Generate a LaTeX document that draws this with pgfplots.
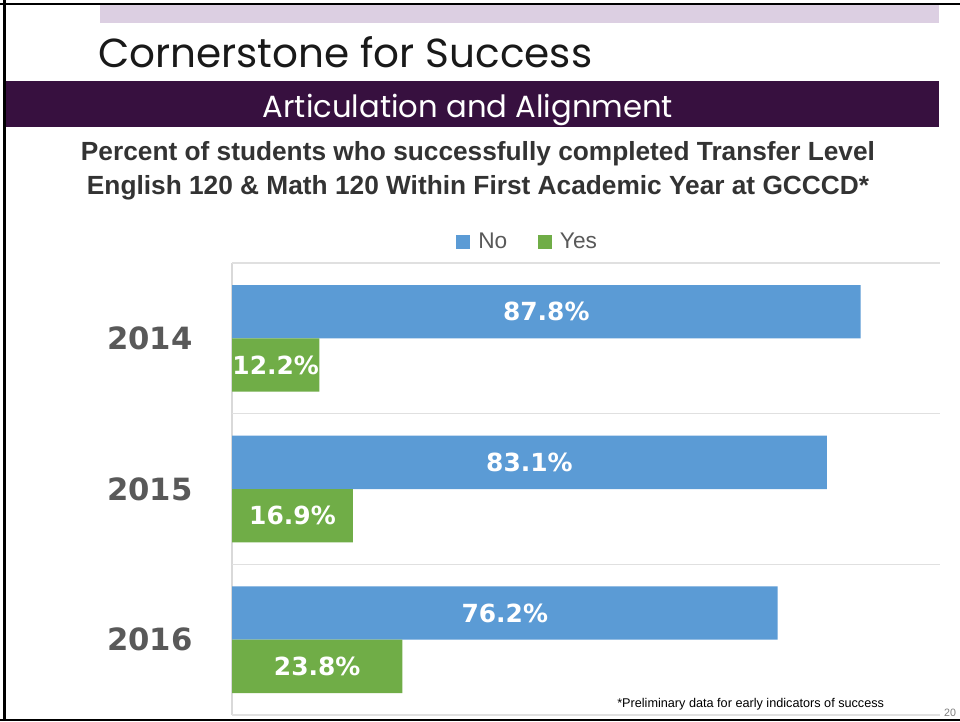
\documentclass[border=0pt]{standalone}
\usepackage{fontspec}
\setmainfont{Liberation Sans}
\newfontfamily\geo{Poppins}
\newfontfamily\dv{DejaVu Sans}
\usepackage{pgfplots}
\pgfplotsset{compat=1.18}
\definecolor{nocol}{HTML}{5B9BD5}
\definecolor{yescol}{HTML}{70AD47}
\definecolor{lband}{HTML}{DCCFE2}
\definecolor{dband}{HTML}{37103F}
\definecolor{lbl}{HTML}{595959}
\begin{document}
\begin{tikzpicture}
\begin{scope}[x=0.75pt,y=-0.75pt]
\path[use as bounding box] (0,0) rectangle (960,721);
\fill[white] (0,0) rectangle (960,721);
\fill[black] (0,2.5) rectangle (960,5);
\fill[black] (3,0) rectangle (5.5,721);
\fill[black] (0,718.5) rectangle (960,721);
\fill[lband] (100,5) rectangle (939,23);
\fill[dband] (5.5,81) rectangle (939,127);
\node[anchor=base west, inner sep=0, font=\geo\fontsize{30.4}{34}\selectfont, text=black!90] at (98,67) {Cornerstone for Success};
\node[anchor=base, inner sep=0, text=white, font=\geo\fontsize{23}{26}\selectfont] at (468,117) {Articulation and Alignment};
\node[align=center, font=\fontsize{19.7}{25.5}\selectfont\bfseries, text=black!80, inner sep=0] at (478,171) {Percent of students who successfully completed Transfer Level\\English 120 \& Math 120 Within First Academic Year at GCCCD*};
\node[anchor=base west, inner sep=0, font=\fontsize{9.5}{11}\selectfont] at (617,707) {*Preliminary data for early indicators of success};
\node[anchor=base, inner sep=0, font=\fontsize{8}{9}\selectfont, text=gray] at (950,716) {20};
\end{scope}
\begin{axis}[
  at={(174pt,-536.25pt)}, anchor=south west,
  scale only axis, width=531pt, height=339pt,
  xmin=0, xmax=98.9, ymin=-0.5, ymax=2.5, y dir=reverse,
  axis x line=none, axis y line*=left,
  y axis line style={draw=black!15, line width=0.8pt, -},
  ytick={0,1,2}, yticklabels={2014,2015,2016},
  ytick style={draw=none},
  yticklabel style={font=\dv\bfseries\fontsize{23}{23}\selectfont, text=lbl, xshift=-26pt},
  extra y ticks={-0.5,0.5,1.5,2.5}, extra y tick labels={},
  extra y tick style={grid=major, major grid style={draw=black!12, line width=0.8pt}},
  bar width=40pt,
  /pgf/number format/assume math mode=true,
  nodes near coords={\pgfmathprintnumber[fixed,precision=1,fixed zerofill]{\pgfplotspointmeta}\%},
  point meta=x,
  visualization depends on={x \as \rawx},
  nodes near coords style={font=\dv\bfseries\fontsize{18.7}{20}\selectfont, text=white, anchor=center, shift={(axis direction cs:-\rawx/2,0)}},
  legend style={at={(0.418,1)}, anchor=center, yshift=15.75pt, draw=none, fill=none,
    font=\fontsize{17}{19}\selectfont, text=lbl, legend columns=2,
    /tikz/every odd column/.append style={column sep=4pt},
    /tikz/every even column/.append style={column sep=21pt}},
]
\addplot[xbar, bar shift=20pt, fill=nocol, draw=none,
  every node near coord/.append style={yshift=20pt},
  legend image code/.code={\fill[nocol] (0pt,-5.25pt) rectangle (10.5pt,5.25pt);}]
  coordinates {(87.8,0) (83.1,1) (76.2,2)};
\addlegendentry{No}
\addplot[xbar, bar shift=-20pt, fill=yescol, draw=none,
  every node near coord/.append style={yshift=-20pt},
  legend image code/.code={\fill[yescol] (0pt,-5.25pt) rectangle (10.5pt,5.25pt);}]
  coordinates {(12.2,0) (16.9,1) (23.8,2)};
\addlegendentry{Yes}
\end{axis}
\end{tikzpicture}
\end{document}
